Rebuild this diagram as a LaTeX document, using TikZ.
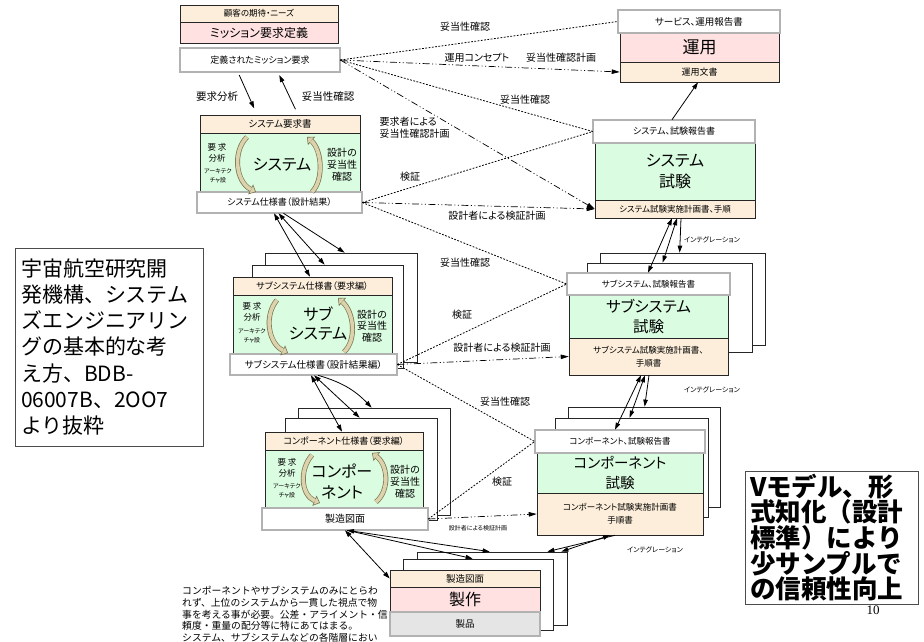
\documentclass[tikz,border=0pt]{standalone}
\usepackage{fontspec}
\setmainfont{Noto Sans CJK JP}[RawFeature=+palt]
\newfontfamily\jmono{Noto Sans CJK JP}
\newfontfamily\serifnum{Liberation Serif}
\usetikzlibrary{arrows.meta}
\definecolor{cream}{HTML}{FCEEDA}
\definecolor{pinkc}{HTML}{FFE1E1}
\definecolor{greenc}{HTML}{DAFCE0}
\definecolor{tanc}{HTML}{DCD3AC}
\definecolor{olivec}{HTML}{7A7452}
\newcommand\myfs[2]{\fontsize{#1}{#2}\selectfont}
\tikzset{
 base/.style={inner sep=0pt, align=center, line width=0.6pt},
 cbox/.style={base, draw=black!85, fill=cream},
 pbox/.style={base, draw=black!85, fill=pinkc},
 grbox/.style={base, draw=black!85, fill=greenc},
 gbox/.style={base, draw=black!60, double=black!30, double distance=1.4pt, fill=white},
 frame/.style={base, draw=black!85, fill=white, line width=0.7pt},
 sz/.style 2 args={minimum width=#1pt, minimum height=#2pt},
 txt/.style={inner sep=0pt, align=center},
 lbl/.style={inner sep=0.5pt, align=center, font=\myfs{10}{12}},
 vline/.style={line width=0.8pt, dash pattern=on 1.8pt off 1.5pt},
 pline/.style={line width=0.7pt, dash pattern=on 7pt off 2.5pt on 1pt off 2.5pt on 1pt off 2.5pt, -{Triangle[length=8pt,width=4.5pt]}},
 sarr/.style={line width=0.8pt, {Triangle[length=7pt,width=4.5pt]}-{Triangle[length=7pt,width=4.5pt]}},
 sarr1/.style={line width=0.8pt, -{Triangle[length=7pt,width=4.5pt]}},
 carrow/.style={line width=5pt, draw=olivec, -{Triangle[length=6pt,width=11pt,line width=0.6pt,fill=tanc]}, postaction={draw=tanc, line width=3.6pt, -, shorten >=5.5pt}},
}
\begin{document}
\begin{tikzpicture}[x=1pt,y=-1pt]
\useasboundingbox (0,0) rectangle (924,642);
\fill[white] (0,0) rectangle (924,642);

% stacked frames
\node[frame, sz={152}{109}] (subF2) at (341,307.5) {};
\node[frame, sz={151}{103}] (subF1) at (327.5,316.5) {};
\node[frame, sz={152}{107}] (compF2) at (374,461.5) {};
\node[frame, sz={152}{102}] (compF1) at (361,469) {};
\node[frame, sz={165}{92}] (subtF2) at (682.5,299) {};
\node[frame, sz={165}{89}] (subtF1) at (669.5,307.5) {};
\node[frame, sz={152}{100}] (comptF2) at (644,457) {};
\node[frame, sz={153}{99}] (comptF1) at (631.5,467.5) {};
\node[frame, sz={150}{73}] (mfgF2) at (492,588.5) {};
\node[frame, sz={150}{71}] (mfgF1) at (478,594.5) {};

% mission
\node[cbox, sz={158}{17}, font=\myfs{8.5}{10}] (needs) at (259,13.5) {顧客の期待・ニーズ};
\node[pbox, sz={158}{21}, font=\myfs{12}{14}] (mdef) at (259,32.5) {ミッション要求定義};
\node[gbox, sz={160}{24}, font=\myfs{9}{11}] (mreq) at (260,60) {定義されたミッション要求};

% operations
\node[pbox, sz={159}{29}, font=\myfs{17}{20}] (ops) at (699.5,47.5) {運用};
\node[cbox, sz={159}{20}, font=\myfs{9}{11}] (opsdoc) at (699.5,72) {運用文書};
\node[gbox, sz={162}{23}, font=\myfs{9.5}{11}] (srv) at (699,21.5) {サービス、運用報告書};

% system
\node[cbox, sz={160}{18}, font=\myfs{9.5}{11}] (sreq) at (280,124) {システム要求書};
\node[grbox, sz={160}{60}] (sgrn) at (280,163) {};
\node[gbox, sz={165}{21}, font=\myfs{9}{11}] (sspec) at (279.5,202.5) {システム仕様書（設計結果）};
\node[txt, font=\myfs{8.5}{10.5}] (sl1) at (217,153) {要 求\\分析};
\node[txt, font=\myfs{6}{8.5}] (sl2) at (218,176) {アーキテク\\チャ設};
\node[txt, font=\myfs{16}{18}] (sbig) at (282,165) {システム};
\node[txt, font=\myfs{10}{12}] (sr) at (342,165) {設計の\\妥当性\\確認};
\draw[carrow] (247,137) .. controls (232,152) and (236,182) .. (256,192);
\draw[carrow] (312,192) .. controls (324,180) and (322,150) .. (307,137);

% system test
\node[grbox, sz={160}{57}, font=\myfs{16}{21}] (sgrn2) at (675,171.5) {システム\\試験};
\node[cbox, sz={160}{18}, font=\myfs{8.5}{10}] (splan) at (675,209) {システム試験実施計画書、手順};
\node[gbox, sz={162}{23}, font=\myfs{9}{11}] (srep) at (674,131.5) {システム、試験報告書};

% subsystem
\node[cbox, sz={159}{18}, font=\myfs{9}{11}] (ssreq) at (312.5,286) {サブシステム仕様書（要求編）};
\node[grbox, sz={159}{60}] (ssgrn) at (312.5,325) {};
\node[gbox, sz={167}{21}, font=\myfs{9.5}{11}] (subspec) at (313.5,364.5) {サブシステム仕様書（設計結果編）};
\node[txt, font=\myfs{8.5}{10.5}] (ssl1) at (252,312) {要 求\\分析};
\node[txt, font=\myfs{6}{8.5}] (ssl2) at (252,336) {アーキテク\\チャ設};
\node[txt, font=\myfs{16}{19}] (ssbig) at (318,324) {サブ\\システム};
\node[txt, font=\myfs{10}{11.5}] (ssr) at (372,326) {設計の\\妥当性\\確認};
\draw[carrow] (277,300) .. controls (264,315) and (268,343) .. (288,353);
\draw[carrow] (344,352) .. controls (357,340) and (354,312) .. (338,298);

% subsystem test
\node[grbox, sz={159}{43}, font=\myfs{15.5}{20}] (subgrn) at (648.5,316.5) {サブシステム\\試験};
\node[cbox, sz={159}{37}, font=\myfs{8.5}{13}] (subplan) at (648.5,356.5) {サブシステム試験実施計画書、\\手順書};
\node[gbox, sz={163}{22}, font=\myfs{8.5}{10}] (subrep) at (648.5,284) {サブシステム、試験報告書};

% component
\node[cbox, sz={158}{18}, font=\myfs{9}{11}] (cspec) at (344,441) {コンポーネント仕様書（要求編）};
\node[grbox, sz={158}{60}] (cgrnL) at (344,480) {};
\node[gbox, sz={166}{22}, font=\myfs{10}{12}] (mdwg) at (345,519) {製造図面};
\node[txt, font=\myfs{8.5}{10.5}] (cl1) at (287,468) {要 求\\分析};
\node[txt, font=\myfs{6}{8.5}] (cl2) at (287,491) {アーキテク\\チャ設};
\node[txt, font=\myfs{16}{21}] (cbig) at (342,482) {コンポー\\ネント};
\node[txt, font=\myfs{10}{12}] (cr) at (405,482) {設計の\\妥当性\\確認};
\draw[carrow] (312,455) .. controls (299,470) and (301,495) .. (320,503);
\draw[carrow] (376,502) .. controls (390,490) and (388,465) .. (372,453);

% component test
\node[grbox, sz={166}{40}, font=\myfs{14.5}{20}] (cgrn) at (620,473) {コンポーネント\\試験};
\node[cbox, sz={166}{42}, font=\myfs{8.5}{13}] (cplan) at (620,514) {コンポーネント試験実施計画書\\手順書};
\node[gbox, sz={170}{23}, font=\myfs{8.5}{10}] (crep) at (620,441.5) {コンポーネント、試験報告書};

% manufacturing
\node[cbox, sz={150}{17}, font=\myfs{9.5}{11}] (mcream) at (465,578.5) {製造図面};
\node[pbox, sz={150}{25}, font=\myfs{16}{19}] (mpink) at (465,599.5) {製作};
\node[gbox, sz={150}{24}, fill=black!10, font=\myfs{9.5}{11}] (mprod) at (465,624) {製品};

% labels
\node[lbl] (v1) at (465,27) {妥当性確認};
\node[lbl] (c1) at (477,58) {運用コンセプト};
\node[lbl] (c2) at (561,58) {妥当性確認計画};
\node[lbl] (v2) at (525,100) {妥当性確認};
\node[lbl, anchor=west, align=left] (p1) at (379,128) {要求者による\\妥当性確認計画};
\node[lbl] (k1) at (410,177) {検証};
\node[lbl] (p2) at (497,216) {設計者による検証計画};
\node[lbl] (v3) at (465,263) {妥当性確認};
\node[lbl] (k2) at (462,315) {検証};
\node[lbl] (p3) at (502,348) {設計者による検証計画};
\node[lbl] (v4) at (505,402) {妥当性確認};
\node[lbl] (k3) at (502,482) {検証};
\node[lbl, font=\myfs{6}{7}] (p4) at (478,528) {設計者による検証計画};
\node[lbl, font=\myfs{10.5}{12}] (ra) at (217,97) {要求分析};
\node[lbl, font=\myfs{10.5}{12}] (rv) at (328,97) {妥当性確認};
\node[lbl, font=\myfs{7}{8}] (ig1) at (712,240) {インテグレーション};
\node[lbl, font=\myfs{7}{8}] (ig2) at (712,390) {インテグレーション};
\node[lbl, font=\myfs{7}{8}] (ig3) at (655,550) {インテグレーション};

% validation / verification connectors
\draw[vline] (mreq.east) -- (srv.west);
\draw[pline] (mreq.east) -- (opsdoc.west);
\draw[vline] (mreq.east) -- (srep.west);
\draw[pline] (mreq.east) -- (splan.west);
\draw[vline] (sspec.east) -- (srep.west);
\draw[pline] (sspec.east) -- (splan.west);
\draw[vline] (sspec.east) -- (subrep.west);
\draw[vline] (subspec.east) -- (subrep.west);
\draw[pline] (subspec.east) -- (subplan.west);
\draw[vline] (subspec.east) -- (crep.west);
\draw[vline] (mdwg.east) -- (crep.west);
\draw[pline] (mdwg.east) -- (cplan.west);

% solid arrows
\draw[sarr1, shorten <=3pt, shorten >=7pt] ([xshift=-22pt]mreq.south) -- ([xshift=-23pt]sreq.north);
\draw[sarr1, shorten <=6pt, shorten >=3pt] ([xshift=18pt]sreq.north) -- ([xshift=18pt]mreq.south);
\draw[sarr1] ([xshift=-2pt]srep.north) -- ([xshift=-1.5pt]opsdoc.south);

\draw[sarr] ([xshift=-5.5pt]sspec.south) -- ([xshift=-2.5pt]ssreq.north);
\draw[sarr] ([xshift=-1pt]sspec.south) -- ([xshift=73pt]subF1.north west);
\draw[sarr1] ([xshift=4pt]sspec.south) -- ([xshift=80pt]subF2.north west);

\draw[sarr] ([xshift=-2.5pt]subspec.south) -- ([xshift=-2pt]cspec.north);
\draw[sarr] ([xshift=0.5pt]subspec.south) -- ([xshift=75pt]compF1.north west);
\draw[sarr1] ([xshift=4.5pt]subspec.south) to[bend left=15] ([xshift=74pt]compF2.north west);

\draw[sarr] ([xshift=-3pt]splan.south) -- ([xshift=-0.5pt]subrep.north);
\draw[sarr] ([xshift=2pt]splan.south) -- ([xshift=76pt]subtF1.north west);
\draw[sarr1] ([xshift=6pt]splan.south) -- ([xshift=80pt]subtF2.north west);

\draw[sarr] ([xshift=-7.5pt]subplan.south) -- ([xshift=-5pt]crep.north);
\draw[sarr] ([xshift=-3.5pt]subplan.south) -- ([xshift=75pt]comptF1.north west);
\draw[sarr1] ([xshift=0.5pt]subplan.south) -- ([xshift=77pt]comptF2.north west);

\draw[sarr] ([xshift=-10pt]cplan.south) -- ([xshift=-6pt]mfgF2.north east);
\draw[sarr1] ([xshift=-5pt]cplan.south) -- ([xshift=-20pt]mfgF2.north east);

\draw[sarr] (mdwg.south) -- (mcream.west);
\draw[sarr] ([xshift=2pt]mdwg.south) -- ([xshift=73pt]mfgF2.north west);
\draw[sarr1] ([xshift=2pt]mdwg.south) -- ([xshift=70pt]mfgF1.north west);

% side notes
\node[draw=black!70, line width=0.8pt, sz={188}{198}, inner sep=0pt, text width=176pt, align=left, font=\jmono\myfs{21}{26.3}] (src) at (109,347) {宇宙航空研究開\\発機構、システム\\ズエンジニアリン\\グの基本的な考\\え方、BDB-\\06007B、2OO7\\より抜粋};
\node[draw=black!70, line width=0.8pt, sz={173}{133}, inner sep=0pt, text width=163pt, align=left, font=\jmono\bfseries\myfs{25.5}{24}] (vm) at (831.5,537.5) {Vモデル、形\\式知化（設計\\標準）により\\少サンプルで\\の信頼性向上};
\node[inner sep=0pt, anchor=north west, align=left, font=\jmono\myfs{9.8}{11.7}] (note) at (182,586) {コンポーネントやサブシステムのみにとらわ\\れず、上位のシステムから一貫した視点で物\\事を考える事が必要。公差・アライメント・信\\頼度・重量の配分等に特にあてはまる。\\システム、サブシステムなどの各階層におい};
\node[inner sep=0pt, font=\serifnum\myfs{13}{15}] (pg) at (873,610) {10};
\end{tikzpicture}
\end{document}
